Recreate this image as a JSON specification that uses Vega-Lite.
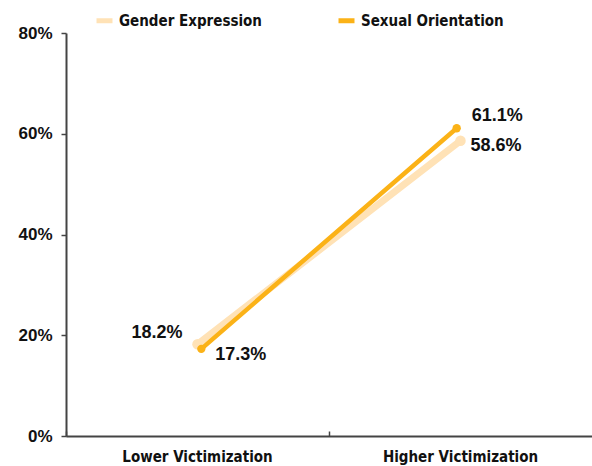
{
  "$schema": "https://vega.github.io/schema/vega-lite/v6.json",
  "width": 526,
  "height": 403,
  "autosize": "none",
  "padding": {"left": 66, "top": 33, "right": 0, "bottom": 30},
  "background": "white",
  "data": {
    "values": [
      {"series": "Gender Expression", "group": "Lower Victimization", "value": 0.182},
      {"series": "Gender Expression", "group": "Higher Victimization", "value": 0.586},
      {"series": "Sexual Orientation", "group": "Lower Victimization", "value": 0.173},
      {"series": "Sexual Orientation", "group": "Higher Victimization", "value": 0.611}
    ]
  },
  "encoding": {
    "y": {
      "field": "value", "type": "quantitative",
      "scale": {"domain": [0, 0.8], "nice": false, "zero": true},
      "axis": {"title": null, "format": ".0%", "values": [0, 0.2, 0.4, 0.6, 0.8], "grid": false,
        "domainColor": "#444", "domainWidth": 2, "tickColor": "#444", "tickWidth": 1.5, "tickSize": 5,
        "labelFont": "Liberation Sans", "labelFontWeight": "bold", "labelFontSize": 17, "labelColor": "#111",
        "labelPadding": 9}
    },
    "color": {
      "field": "series", "type": "nominal",
      "scale": {"domain": ["Gender Expression", "Sexual Orientation"], "range": ["#FFE2B6", "#FBB217"]},
      "legend": {"title": null, "orient": "none", "legendX": 28, "legendY": -23, "direction": "horizontal",
        "symbolType": "stroke", "symbolSize": 256, "symbolStrokeWidth": 5, "symbolOpacity": 1,
        "labelFont": "DejaVu Sans Condensed", "labelFontWeight": "bold", "labelFontSize": 15, "labelColor": "#111",
        "labelOffset": 4, "columnPadding": 66, "padding": 0}
    }
  },
  "layer": [
    {
      "transform": [{"filter": "datum.series == 'Gender Expression'"}],
      "encoding": {
        "x": {
          "field": "group", "type": "nominal", "sort": ["Lower Victimization", "Higher Victimization"],
          "scale": {"type": "band", "paddingInner": 0, "paddingOuter": 0},
          "axis": {"title": null, "labelAngle": 0, "bandPosition": 0, "domainColor": "#444", "domainWidth": 2,
            "tickColor": "#444", "tickWidth": 1.5, "tickSize": -5, "labelPadding": 18,
            "labelFont": "DejaVu Sans Condensed", "labelFontWeight": "bold", "labelFontSize": 15, "labelColor": "#111"}
        }
      },
      "layer": [
        {"mark": {"type": "line", "strokeWidth": 7, "strokeCap": "round"}},
        {"mark": {"type": "point", "filled": true, "size": 110, "opacity": 1}},
        {
          "transform": [{"filter": "datum.group == 'Lower Victimization'"}],
          "mark": {"type": "text", "align": "right", "baseline": "middle", "dx": -15, "dy": -11,
            "font": "Liberation Sans", "fontWeight": "bold", "fontSize": 18},
          "encoding": {"text": {"field": "value", "format": ".1%"}, "color": {"value": "#111"}}
        },
        {
          "transform": [{"filter": "datum.group == 'Higher Victimization'"}],
          "mark": {"type": "text", "align": "left", "baseline": "middle", "dx": 10, "dy": 5,
            "font": "Liberation Sans", "fontWeight": "bold", "fontSize": 18},
          "encoding": {"text": {"field": "value", "format": ".1%"}, "color": {"value": "#111"}}
        }
      ]
    },
    {
      "transform": [{"filter": "datum.series == 'Sexual Orientation'"}],
      "encoding": {
        "x": {
          "field": "group", "type": "nominal", "sort": ["Lower Victimization", "Higher Victimization"],
          "scale": {"type": "point", "padding": 0.53},
          "axis": null
        }
      },
      "layer": [
        {"mark": {"type": "line", "strokeWidth": 4.5, "strokeCap": "round"}},
        {"mark": {"type": "point", "filled": true, "size": 70, "opacity": 1}},
        {
          "transform": [{"filter": "datum.group == 'Lower Victimization'"}],
          "mark": {"type": "text", "align": "left", "baseline": "middle", "dx": 14, "dy": 6,
            "font": "Liberation Sans", "fontWeight": "bold", "fontSize": 18},
          "encoding": {"text": {"field": "value", "format": ".1%"}, "color": {"value": "#111"}}
        },
        {
          "transform": [{"filter": "datum.group == 'Higher Victimization'"}],
          "mark": {"type": "text", "align": "left", "baseline": "middle", "dx": 15, "dy": -12,
            "font": "Liberation Sans", "fontWeight": "bold", "fontSize": 18},
          "encoding": {"text": {"field": "value", "format": ".1%"}, "color": {"value": "#111"}}
        }
      ]
    }
  ],
  "resolve": {"scale": {"x": "independent"}},
  "config": {"view": {"stroke": null}}
}
